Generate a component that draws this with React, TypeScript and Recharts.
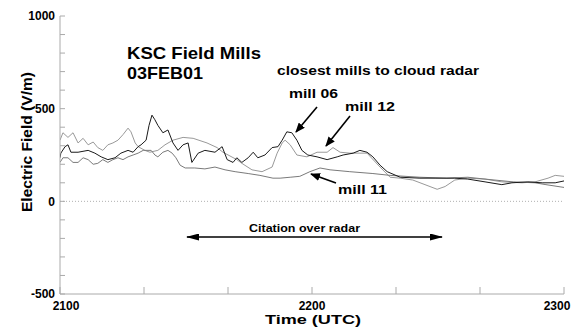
import { LineChart, Line, XAxis, YAxis, ReferenceLine } from 'recharts';

// minutes after 2100 UTC and field values (V/m)
const mill06Time = [0, 0.2, 1.2, 1.9, 2.6, 4.3, 6.7, 8.3, 9.8, 11.4, 13.1, 14.5, 16.2, 17.4, 18.6, 19.3, 20.5, 21.2, 21.9, 22.6, 23.3, 24.5, 25.7, 26.9, 28.1, 29.3, 30.5, 31.4, 32.9, 34.5, 36.9, 38.6, 39.8, 41.2, 42.1, 43.3, 44.8, 46.0, 47.1, 48.8, 50.5, 51.9, 52.9, 54.0, 55.2, 56.4, 57.6, 59.0, 61.2, 63.6, 66.0, 67.4, 69.8, 71.4, 73.1, 74.5, 76.2, 77.9, 81.0, 85.7, 89.3, 94.0, 97.1, 101.2, 105.2, 107.6, 111.4, 114.8, 117.9, 120];
const mill06Field = [235, 260, 295, 305, 265, 265, 275, 260, 240, 225, 235, 260, 275, 265, 295, 305, 330, 410, 465, 440, 410, 370, 385, 315, 275, 305, 315, 210, 260, 275, 265, 295, 225, 210, 235, 210, 235, 265, 235, 250, 290, 295, 330, 375, 370, 330, 275, 250, 240, 225, 240, 250, 260, 275, 265, 240, 195, 160, 130, 125, 125, 125, 120, 105, 90, 100, 105, 100, 100, 110];

const mill12Time = [0, 0.7, 1.9, 3.1, 4.3, 5.5, 6.7, 7.9, 9.0, 10.2, 11.4, 12.6, 13.8, 15.0, 16.2, 16.9, 17.9, 18.6, 20.2, 21.4, 23.3, 25.0, 26.9, 29.3, 31.7, 35.0, 37.4, 38.8, 42.1, 43.3, 45.7, 48.1, 50.5, 51.7, 52.9, 53.6, 54.8, 56.4, 58.8, 61.2, 63.6, 65.0, 66.7, 69.0, 73.1, 76.2, 78.6, 81.0, 84.0, 86.9, 89.8, 91.7, 94.0, 97.1, 101.2, 105.2, 110.0, 113.1, 116.2, 117.9, 120];
const mill12Field = [330, 370, 345, 370, 315, 340, 305, 320, 290, 275, 305, 315, 330, 360, 395, 375, 315, 295, 275, 265, 275, 305, 330, 345, 340, 315, 290, 265, 225, 205, 170, 160, 185, 260, 315, 330, 305, 250, 240, 265, 265, 290, 265, 260, 260, 185, 130, 125, 115, 90, 65, 80, 115, 125, 120, 105, 100, 105, 125, 140, 135];

const mill11Time = [0, 0.7, 1.9, 3.1, 4.3, 5.5, 6.7, 7.9, 9.0, 10.2, 11.4, 12.6, 13.8, 15.0, 16.2, 17.4, 18.6, 19.8, 21.7, 22.6, 23.3, 24.5, 25.7, 26.7, 27.6, 28.6, 29.8, 32.1, 34.5, 36.9, 39.3, 41.7, 44.8, 47.6, 50.7, 52.4, 54.8, 57.1, 59.5, 61.9, 64.3, 69.0, 74.5, 78.6, 85.7, 92.1, 97.1, 101.2, 107.9, 113.1, 115.7, 120];
const mill11Field = [210, 235, 235, 210, 210, 235, 225, 200, 205, 225, 210, 225, 235, 225, 240, 250, 260, 275, 275, 250, 240, 265, 275, 260, 235, 195, 180, 180, 175, 185, 170, 160, 150, 140, 125, 125, 130, 135, 160, 180, 170, 160, 150, 140, 130, 125, 130, 120, 105, 100, 90, 75];

const minuteTicks = [0, 20, 40, 60, 80, 100, 120];
const timeLabels: Record<number, string> = { 0: '2100', 60: '2200', 120: '2300' };
const fieldTicks = [-500, -400, -300, -200, -100, 0, 100, 200, 300, 400, 500, 600, 700, 800, 900, 1000];
const fieldLabels = [-500, 0, 500, 1000];

const toRows = (t: number[], v: number[]) => t.map((m, i) => ({ t: m, v: v[i] }));
const mill06 = toRows(mill06Time, mill06Field);
const mill12 = toRows(mill12Time, mill12Field);
const mill11 = toRows(mill11Time, mill11Field);

const FONT = '"Liberation Sans", Arial, sans-serif';
const AXIS = '#aaa';

function TimeTick({ x, y, payload }: any) {
  const label = timeLabels[payload.value];
  if (!label) return <g />;
  const shift = payload.value === 0 ? 6 : payload.value === 120 ? -7 : 0;
  return (
    <text x={x + shift} y={y} dy="0.71em" textAnchor="middle" fontSize={12} fontWeight="bold" fontFamily={FONT} fill="#000">
      {label}
    </text>
  );
}

function Notes() {
  const txt = { fontFamily: FONT, fontWeight: 'bold' as const, fill: '#000' };
  return (
    <svg width={573} height={327} style={{ position: 'absolute', left: 0, top: 0, pointerEvents: 'none' }}>
      <defs>
        <marker id="hd" markerUnits="userSpaceOnUse" markerWidth={10} markerHeight={8} refX={9} refY={4} orient="auto">
          <path d="M0,0 L10,4 L0,8 z" fill="#000" />
        </marker>
        <marker id="hc" markerUnits="userSpaceOnUse" markerWidth={13} markerHeight={7} refX={12} refY={3.5} orient="auto-start-reverse">
          <path d="M0,0 L13,3.5 L0,7 z" fill="#000" />
        </marker>
      </defs>
      <text x={127} y={59} fontSize={17} textLength={134} lengthAdjust="spacingAndGlyphs" {...txt}>KSC Field Mills</text>
      <text x={127} y={79} fontSize={17} textLength={76} lengthAdjust="spacingAndGlyphs" {...txt}>03FEB01</text>
      <text x={277} y={75} fontSize={13} textLength={202} lengthAdjust="spacingAndGlyphs" {...txt}>closest mills to cloud radar</text>
      <text x={289} y={98} fontSize={13} textLength={49} lengthAdjust="spacingAndGlyphs" {...txt}>mill 06</text>
      <text x={345} y={111} fontSize={13} textLength={50} lengthAdjust="spacingAndGlyphs" {...txt}>mill 12</text>
      <text x={338} y={194} fontSize={13} textLength={49} lengthAdjust="spacingAndGlyphs" {...txt}>mill 11</text>
      <text x={249} y={232} fontSize={11} textLength={111} lengthAdjust="spacingAndGlyphs" {...txt}>Citation over radar</text>
      <line x1={317} y1={107} x2={296} y2={132} stroke="#000" strokeWidth={1.6} markerEnd="url(#hd)" />
      <line x1={350} y1={116} x2={326} y2={146} stroke="#000" strokeWidth={1.6} markerEnd="url(#hd)" />
      <line x1={336} y1={183} x2={311} y2={174} stroke="#000" strokeWidth={1.6} markerEnd="url(#hd)" />
      <line x1={187} y1={237} x2={442} y2={237} stroke="#000" strokeWidth={1.6} markerStart="url(#hc)" markerEnd="url(#hc)" />
      <text x={313} y={324} fontSize={12.5} textAnchor="middle" textLength={96} lengthAdjust="spacingAndGlyphs" {...txt}>Time (UTC)</text>
      <text x={0} y={0} fontSize={15} textAnchor="middle" textLength={140} lengthAdjust="spacingAndGlyphs" transform="translate(32,142) rotate(-90)" {...txt}>Electric Field (V/m)</text>
    </svg>
  );
}

export default function App() {
  return (
    <div style={{ position: 'absolute', left: 0, top: 0, width: 573, height: 327, background: '#fff' }}>
      <LineChart width={573} height={327} margin={{ top: 16, right: 9, bottom: 0, left: 0 }}>
        <XAxis
          dataKey="t"
          type="number"
          domain={[0, 120]}
          ticks={minuteTicks}
          interval={0}
          height={33}
          stroke={AXIS}
          tickSize={-7}
          tickMargin={14}
          tick={<TimeTick />}
          allowDataOverflow
        />
        <XAxis
          xAxisId="top"
          orientation="top"
          type="number"
          domain={[0, 120]}
          ticks={minuteTicks}
          interval={0}
          height={0}
          stroke={AXIS}
          tickSize={-7}
          tickFormatter={() => ''}
        />
        <YAxis
          type="number"
          domain={[-500, 1000]}
          ticks={fieldTicks}
          interval={0}
          width={60}
          stroke={AXIS}
          tickSize={-5}
          tickMargin={10}
          tick={{ fill: '#000', fontSize: 12, fontWeight: 'bold', fontFamily: FONT }}
          tickFormatter={(v: number) => (fieldLabels.includes(v) ? String(v) : '')}
          allowDataOverflow
        />
        <YAxis
          yAxisId="right"
          orientation="right"
          type="number"
          domain={[-500, 1000]}
          ticks={fieldTicks}
          interval={0}
          width={0}
          stroke={AXIS}
          tickSize={-5}
          tickFormatter={() => ''}
        />
        <ReferenceLine y={0} stroke="#b0b0b0" strokeDasharray="1 2" />
        <Line data={mill12} dataKey="v" type="linear" stroke="#999" strokeWidth={1} dot={false} isAnimationActive={false} />
        <Line data={mill11} dataKey="v" type="linear" stroke="#7a7a7a" strokeWidth={1} dot={false} isAnimationActive={false} />
        <Line data={mill06} dataKey="v" type="linear" stroke="#1a1a1a" strokeWidth={1} dot={false} isAnimationActive={false} />
      </LineChart>
      <Notes />
    </div>
  );
}
